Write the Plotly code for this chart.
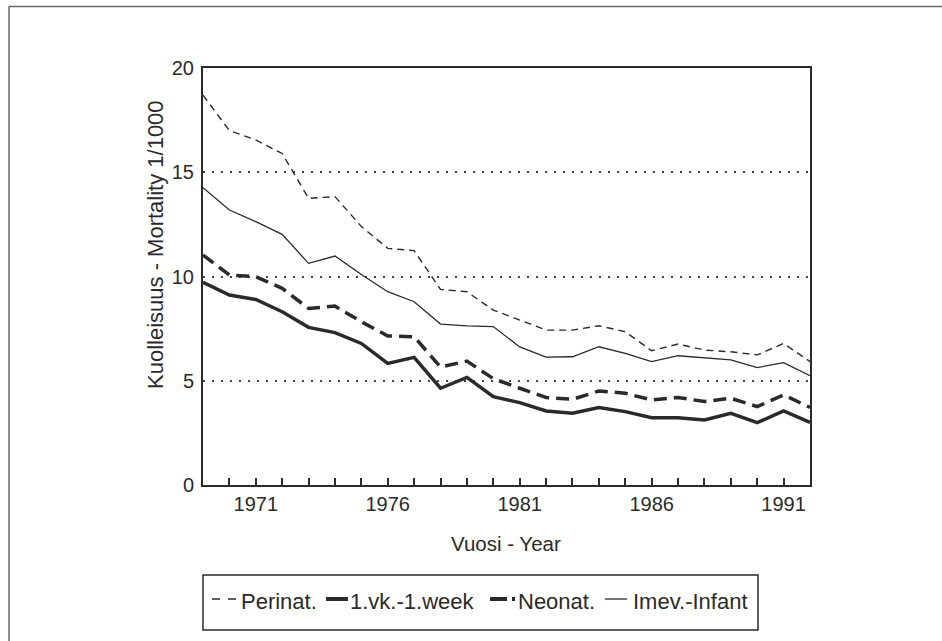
import plotly.graph_objects as go

# ---- data ----
years = list(range(1969, 1993))
perinat = [18.7, 17.0, 16.55, 15.9, 13.75, 13.83, 12.4, 11.35, 11.24, 9.38, 9.27, 8.39,
           7.91, 7.43, 7.43, 7.64, 7.35, 6.44, 6.76, 6.47, 6.39, 6.24, 6.79, 5.92]
week1 = [9.72, 9.11, 8.9, 8.31, 7.56, 7.31, 6.79, 5.83, 6.12, 4.64, 5.16, 4.24,
         3.95, 3.55, 3.44, 3.72, 3.52, 3.23, 3.23, 3.12, 3.44, 2.99, 3.55, 3.0]
neonat = [11.03, 10.07, 9.99, 9.43, 8.47, 8.58, 7.83, 7.15, 7.11, 5.66, 5.94, 5.1,
          4.64, 4.2, 4.11, 4.51, 4.40, 4.08, 4.2, 4.0, 4.16, 3.76, 4.32, 3.72]
infant = [14.26, 13.19, 12.63, 12.02, 10.63, 10.98, 10.1, 9.27, 8.79, 7.72, 7.63, 7.6,
          6.62, 6.13, 6.15, 6.63, 6.31, 5.92, 6.2, 6.11, 6.0, 5.63, 5.87, 5.24]

x_label_years = [1971, 1976, 1981, 1986, 1991]
y_ticks = [0, 5, 10, 15, 20]

series_names = ["Perinat.", "1.vk.-1.week", "Neonat.", "Imev.-Infant"]
y_title = "Kuolleisuus - Mortality 1/1000"
x_title = "Vuosi - Year"

# ---- layout geometry (pixels) ----
W, H = 942, 641
L, R, T, B = 203, 810, 68, 485
PW, PH = R - L, B - T

def px(xp):
    return (xp - L) / PW

def py(yp):
    return (B - yp) / PH

INK = "#2a2a2a"
FONT = "Liberation Sans, Arial, sans-serif"

fig = go.Figure()
fig.add_trace(go.Scatter(x=years, y=perinat, mode="lines", name=series_names[0],
                         line=dict(color=INK, width=1.4, dash="7px,5px")))
fig.add_trace(go.Scatter(x=years, y=week1, mode="lines", name=series_names[1],
                         line=dict(color=INK, width=3.5)))
fig.add_trace(go.Scatter(x=years, y=neonat, mode="lines", name=series_names[2],
                         line=dict(color=INK, width=3.5, dash="13px,7px")))
fig.add_trace(go.Scatter(x=years, y=infant, mode="lines", name=series_names[3],
                         line=dict(color=INK, width=1.3)))

tickvals = years
ticktext = [str(y) if y in x_label_years else "" for y in years]

fig.update_layout(
    width=W, height=H,
    margin=dict(l=L, r=W - R, t=T, b=H - B, pad=0),
    paper_bgcolor="white", plot_bgcolor="white",
    showlegend=False,
    font=dict(family=FONT, color=INK, size=20),
    xaxis=dict(range=[1969, 1992], tickvals=tickvals, ticktext=ticktext,
               ticks="inside", ticklen=7, tickwidth=1.5, tickcolor=INK,
               showline=True, linewidth=2, linecolor=INK, mirror=True,
               showgrid=False, zeroline=False,
               tickfont=dict(size=20, family=FONT, color=INK)),
    yaxis=dict(range=[0, 20], tickvals=y_ticks, ticks="",
               showline=True, linewidth=2, linecolor=INK, mirror=True,
               showgrid=True, gridcolor="#444444", gridwidth=1.5, griddash="2px,7px",
               zeroline=False, ticklabelstandoff=3,
               tickfont=dict(size=20, family=FONT, color=INK)),
)

shapes = []
annotations = []
# outer frame (top and left edges visible in the reference)
shapes.append(dict(type="line", xref="paper", yref="paper",
                   x0=px(9), x1=px(942), y0=py(6.5), y1=py(6.5),
                   line=dict(color="#666666", width=1.5)))
shapes.append(dict(type="line", xref="paper", yref="paper",
                   x0=px(9), x1=px(9), y0=py(6.5), y1=py(641),
                   line=dict(color="#666666", width=1.5)))
# legend box
shapes.append(dict(type="rect", xref="paper", yref="paper",
                   x0=px(203), x1=px(758), y0=py(630), y1=py(575),
                   line=dict(color=INK, width=1.5)))
ly = py(599)
leg_syms = [
    (212, 237, 1.4, "8px,8px"),
    (326, 348, 4.0, "solid"),
    (490, 515, 4.0, "17px,5px,3px,20px"),
    (605, 627, 1.3, "solid"),
]
for (a, b, w, d) in leg_syms:
    shapes.append(dict(type="line", xref="paper", yref="paper",
                       x0=px(a), x1=px(b), y0=ly, y1=ly,
                       line=dict(color=INK, width=w, dash=d)))
leg_text_x = [239, 348, 516, 631]
for name, tx in zip(series_names, leg_text_x):
    annotations.append(dict(text=name, xref="paper", yref="paper", x=px(tx), y=py(601),
                            xanchor="left", yanchor="middle", showarrow=False,
                            font=dict(size=22, family=FONT, color=INK)))
# axis titles
annotations.append(dict(text=y_title, xref="paper", yref="paper", x=px(155), y=py(245),
                        xanchor="center", yanchor="middle", textangle=-90, showarrow=False,
                        font=dict(size=22, family=FONT, color=INK)))
annotations.append(dict(text=x_title, xref="paper", yref="paper", x=px(506), y=py(543),
                        xanchor="center", yanchor="middle", showarrow=False,
                        font=dict(size=20.5, family=FONT, color=INK)))

fig.update_layout(shapes=shapes, annotations=annotations)
fig.write_html("out.html", config={"displayModeBar": False},
               post_script="document.body.style.margin='0';document.body.style.overflow='hidden';")
